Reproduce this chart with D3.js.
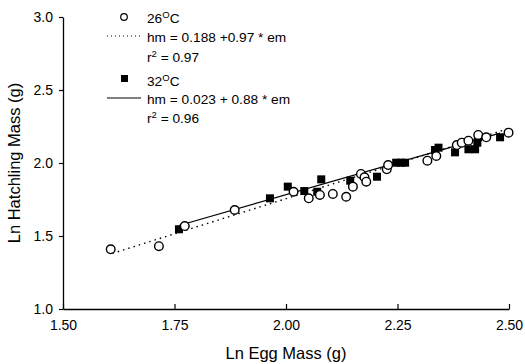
<!DOCTYPE html>
<html>
<head>
  <meta charset="utf-8">
  <script src="https://d3js.org/d3.v7.min.js"></script>
  <style>
    body { margin: 0; background: #fff; }
    text { font-family: "Liberation Sans", Arial, sans-serif; fill: #000; }
  </style>
</head>
<body>
<div id="chart"></div>
<script>
  // 26 C hatchlings (open circles): [ln egg mass, ln hatchling mass]
  const pts26 = [
    [1.607, 1.409], [1.715, 1.430], [1.773, 1.568], [1.885, 1.678],
    [2.017, 1.803], [2.051, 1.758], [2.076, 1.781], [2.105, 1.788],
    [2.135, 1.769], [2.150, 1.838], [2.168, 1.925], [2.176, 1.902],
    [2.180, 1.872], [2.226, 1.957], [2.229, 1.986], [2.317, 2.016],
    [2.337, 2.048], [2.383, 2.123], [2.394, 2.139], [2.409, 2.153],
    [2.431, 2.192], [2.449, 2.176], [2.499, 2.208]
  ];
  // 32 C hatchlings (filled squares)
  const pts32 = [
    [1.760, 1.546], [1.964, 1.758], [2.004, 1.838], [2.041, 1.808],
    [2.070, 1.803], [2.079, 1.888], [2.144, 1.879], [2.204, 1.906],
    [2.247, 2.002], [2.258, 2.002], [2.267, 2.002], [2.334, 2.089],
    [2.342, 2.105], [2.379, 2.073], [2.409, 2.094], [2.424, 2.094],
    [2.429, 2.139], [2.431, 2.176], [2.480, 2.176]
  ];
  // fitted lines as drawn (endpoints)
  const fit26 = [[1.611, 1.381], [2.500, 2.237]];
  const fit32 = [[1.760, 1.572], [2.480, 2.205]];

  const xTicks = [1.50, 1.75, 2.00, 2.25, 2.50];
  const yTicks = [1.0, 1.5, 2.0, 2.5, 3.0];

  const W = 525, H = 364;
  const svg = d3.select("#chart").append("svg").attr("width", W).attr("height", H);

  const x = d3.scaleLinear().domain([1.5, 2.5]).range([63, 509]);
  const y = d3.scaleLinear().domain([1.0, 3.0]).range([309, 17]);

  // axes
  const xAxis = svg.append("g").attr("transform", `translate(0,${y(1.0)})`)
    .call(d3.axisBottom(x).tickValues(xTicks).tickFormat(d3.format(".2f"))
      .tickSizeInner(-5).tickSizeOuter(0).tickPadding(11));
  const yAxis = svg.append("g").attr("transform", `translate(${x(1.5)},0)`)
    .call(d3.axisLeft(y).tickValues(yTicks).tickFormat(d3.format(".1f"))
      .tickSizeInner(4).tickSizeOuter(0).tickPadding(6));
  [xAxis, yAxis].forEach(g => {
    g.select(".domain").attr("stroke", "#000").attr("stroke-width", 1.3);
    g.selectAll(".tick line").attr("stroke", "#000").attr("stroke-width", 1.2);
    g.selectAll(".tick text").style("font-size", "14px").attr("fill", "#000");
  });

  svg.append("text").attr("x", 286).attr("y", 359).attr("text-anchor", "middle")
    .style("font-size", "16.5px").text("Ln Egg Mass (g)");
  svg.append("text").attr("transform", "translate(20,163) rotate(-90)")
    .attr("text-anchor", "middle").style("font-size", "16.5px").text("Ln Hatchling Mass (g)");

  // fit lines
  const line = d3.line().x(d => x(d[0])).y(d => y(d[1]));
  svg.append("path").attr("d", line(fit26)).attr("fill", "none")
    .attr("stroke", "#000").attr("stroke-width", 1.4).attr("stroke-dasharray", "1.5,4");
  svg.append("path").attr("d", line(fit32)).attr("fill", "none")
    .attr("stroke", "#000").attr("stroke-width", 1.2);

  // markers
  svg.append("g").selectAll("rect").data(pts32).join("rect")
    .attr("x", d => x(d[0]) - 4).attr("y", d => y(d[1]) - 4)
    .attr("width", 8).attr("height", 8).attr("fill", "#000");
  svg.append("g").selectAll("circle").data(pts26).join("circle")
    .attr("cx", d => x(d[0])).attr("cy", d => y(d[1])).attr("r", 4.3)
    .attr("fill", "#fff").attr("stroke", "#000").attr("stroke-width", 1.4);

  // legend
  const lg = svg.append("g").style("font-size", "13.7px");
  const tx = 147;
  function temp(label, yy) {
    const t = lg.append("text").attr("x", tx).attr("y", yy);
    t.append("tspan").text(label);
    t.append("tspan").attr("dy", -5).style("font-size", "9.5px").text("O");
    t.append("tspan").attr("dy", 5).text("C");
  }
  function rsq(val, yy) {
    const t = lg.append("text").attr("x", tx).attr("y", yy);
    t.append("tspan").text("r");
    t.append("tspan").attr("dy", -5).style("font-size", "9.5px").text("2");
    t.append("tspan").attr("dy", 5).text(" = " + val);
  }
  lg.append("circle").attr("cx", 124).attr("cy", 17).attr("r", 3.3)
    .attr("fill", "#fff").attr("stroke", "#000").attr("stroke-width", 1.2);
  temp("26", 23);
  lg.append("line").attr("x1", 107).attr("x2", 141).attr("y1", 36).attr("y2", 36)
    .attr("stroke", "#000").attr("stroke-width", 1).attr("stroke-dasharray", "1,3");
  lg.append("text").attr("x", tx).attr("y", 42).text("hm = 0.188 +0.97 * em");
  rsq("0.97", 62);

  lg.append("rect").attr("x", 121).attr("y", 75).attr("width", 7).attr("height", 7).attr("fill", "#000");
  temp("32", 86);
  lg.append("line").attr("x1", 107).attr("x2", 141).attr("y1", 98).attr("y2", 98)
    .attr("stroke", "#000").attr("stroke-width", 1);
  lg.append("text").attr("x", tx).attr("y", 104).text("hm = 0.023 + 0.88 * em");
  rsq("0.96", 123);
</script>
</body>
</html>
